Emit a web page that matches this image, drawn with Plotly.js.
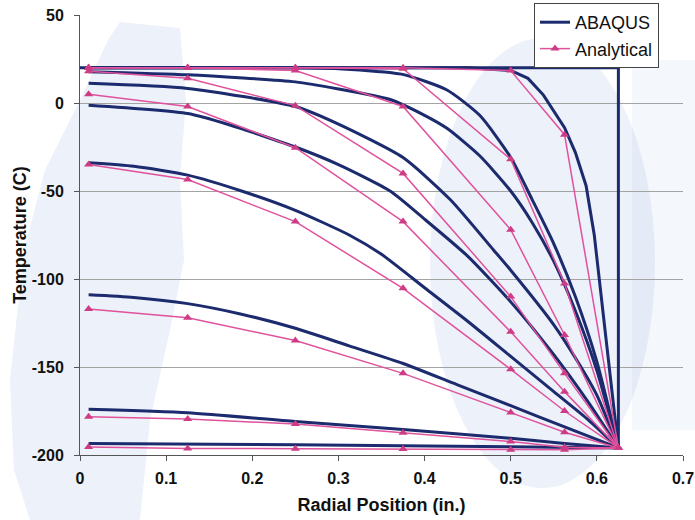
<!DOCTYPE html>
<html>
<head>
<meta charset="utf-8">
<script src="https://cdn.plot.ly/plotly-3.0.1.min.js"></script>
<style>
  html, body { margin: 0; padding: 0; background: #ffffff; }
  #chart { width: 695px; height: 520px; }
</style>
</head>
<body>
<div id="chart"></div>
<script>
// Analytical solution: radial positions (in.) and temperatures (C) for each time
const xAnalytical = [0.01, 0.125, 0.25, 0.375, 0.5, 0.5625, 0.625];
const anaT1 = [20, 20, 20, 20, 18.4, -18, -196];
const anaT2 = [20, 20, 20, 19.5, -32, -102.5, -196];
const anaT3 = [20, 20, 18.4, -2, -72, -131.8, -196];
const anaT4 = [18, 14, -1.5, -40, -110, -153.6, -196];
const anaT5 = [5, -2, -25.4, -67.4, -130, -164, -196];
const anaT6 = [-35, -43.5, -67.4, -105.3, -151.3, -175, -196];
const anaT7 = [-117, -122, -135, -153.6, -175.9, -187.1, -196];
const anaT8 = [-178.2, -179.5, -182.4, -187.3, -192.4, -195.6, -196];
const anaT9 = [-195.5, -196.3, -196.4, -196.6, -197, -197, -196];

// ABAQUS results: radial positions and temperatures for each time
const abqX0 = [0, 0.625, 0.625];
const abqT0 = [20, 20, -196];
const abqX1 = [0.01, 0.45, 0.5, 0.52, 0.538, 0.5625, 0.575, 0.5875, 0.597, 0.625];
const abqT1 = [20, 20, 18.5, 14, 4.5, -14, -28, -47, -75, -196];
const abqX2 = [0.01, 0.25, 0.3, 0.348, 0.377, 0.426, 0.464, 0.5, 0.525, 0.55, 0.575, 0.6, 0.625];
const abqT2 = [20, 20, 19.5, 17.8, 16, 7.4, -7, -31, -55, -80, -110, -147, -196];
const abqX3 = [0.01, 0.125, 0.25, 0.3, 0.36, 0.4, 0.426, 0.464, 0.5, 0.525, 0.55, 0.575, 0.6, 0.625];
const abqT3 = [17.8, 16, 12, 8, 2, -7, -14.4, -30, -50, -68, -90, -118, -152, -196];
const abqX4 = [0.01, 0.125, 0.25, 0.3, 0.375, 0.43, 0.48, 0.5, 0.55, 0.5766, 0.6, 0.625];
const abqT4 = [11.2, 8.3, -2, -12, -31, -55, -83.5, -95, -126, -146, -166, -196];
const abqX5 = [0.01, 0.125, 0.174, 0.25, 0.3, 0.36, 0.4, 0.45, 0.5, 0.55, 0.59, 0.625];
const abqT5 = [-1.3, -6, -12.5, -25, -35, -50, -66, -87, -113, -143, -170, -196];
const abqX6 = [0.01, 0.0625, 0.125, 0.1875, 0.25, 0.3125, 0.35, 0.4, 0.45, 0.5, 0.55, 0.59, 0.625];
const abqT6 = [-34, -36, -41, -50, -61, -75, -86, -105, -124, -144, -164, -180, -196];
const abqX7 = [0.01, 0.0625, 0.125, 0.1875, 0.25, 0.3125, 0.375, 0.4375, 0.5, 0.5625, 0.625];
const abqT7 = [-109, -110.5, -114, -120, -128, -138, -148, -160, -172, -184, -196];
const abqX8 = [0.01, 0.125, 0.25, 0.375, 0.5, 0.5625, 0.625];
const abqT8 = [-174, -176, -181, -185.5, -190.5, -193.5, -196];
const abqX9 = [0.01, 0.25, 0.5, 0.625];
const abqT9 = [-193.5, -194.2, -195.3, -196];

const seriesNames = ['ABAQUS', 'Analytical'];
const xTickVals = [0, 0.1, 0.2, 0.3, 0.4, 0.5, 0.6, 0.7];
const xTickText = ['0', '0.1', '0.2', '0.3', '0.4', '0.5', '0.6', '0.7'];
const yTickVals = [-200, -150, -100, -50, 0, 50];
const yTickText = ['-200', '-150', '-100', '-50', '0', '50'];

const NAVY = '#1c2a6e';
const PINK = '#e0529c';
const PINK_MARK = '#cc3d86';

const abqSets = [
  [abqX0, abqT0, 'linear'], [abqX1, abqT1, 'linear'], [abqX2, abqT2, 'spline'],
  [abqX3, abqT3, 'spline'], [abqX4, abqT4, 'spline'], [abqX5, abqT5, 'spline'],
  [abqX6, abqT6, 'spline'], [abqX7, abqT7, 'spline'], [abqX8, abqT8, 'spline'],
  [abqX9, abqT9, 'spline']
];
const anaSets = [anaT1, anaT2, anaT3, anaT4, anaT5, anaT6, anaT7, anaT8, anaT9];

const traces = [];
abqSets.forEach(function (s, i) {
  traces.push({
    x: s[0], y: s[1], type: 'scatter', mode: 'lines',
    name: seriesNames[0], legendgroup: 'abq', showlegend: i === 0,
    line: { color: NAVY, width: 3, shape: s[2], smoothing: 0.6 },
    hoverinfo: 'skip'
  });
});
anaSets.forEach(function (t, i) {
  traces.push({
    x: xAnalytical, y: t, type: 'scatter', mode: 'lines+markers',
    name: seriesNames[1], legendgroup: 'ana', showlegend: i === 0,
    line: { color: PINK, width: 1.5 },
    marker: { symbol: 'triangle-up', size: 8, color: PINK_MARK },
    hoverinfo: 'skip'
  });
});

// pixel -> paper helpers for the faint background tint
const PL = 80, PR = 683, PT = 15, PB = 455;
function px(x) { return (x - PL) / (PR - PL); }
function py(y) { return (PB - y) / (PB - PT); }
function poly(pts) {
  return 'M ' + pts.map(function (p) { return px(p[0]).toFixed(4) + ',' + py(p[1]).toFixed(4); }).join(' L ') + ' Z';
}
const tint = 'rgba(196,210,234,0.30)';
const shapes = [
  { type: 'path', xref: 'paper', yref: 'paper', layer: 'below', fillcolor: tint, line: { width: 0 },
    path: poly([[120,22],[180,28],[186,100],[180,180],[184,260],[170,330],[150,420],[140,520],[30,520],[14,470],[10,380],[24,250],[45,170],[80,100],[108,40]]) },
  { type: 'circle', xref: 'paper', yref: 'paper', layer: 'below', fillcolor: tint, line: { width: 0 },
    x0: px(430), x1: px(655), y0: py(488), y1: py(38) },
  { type: 'path', xref: 'paper', yref: 'paper', layer: 'below', fillcolor: 'rgba(196,210,234,0.18)', line: { width: 0 },
    path: poly([[632,60],[695,60],[695,430],[632,430]]) }
];

const layout = {
  width: 695, height: 520,
  margin: { l: 80, r: 12, t: 15, b: 65, autoexpand: false },
  paper_bgcolor: '#ffffff', plot_bgcolor: 'rgba(0,0,0,0)',
  font: { family: 'Arial, "Liberation Sans", sans-serif', color: '#111' },
  showlegend: true,
  legend: {
    x: px(534), y: py(3), xanchor: 'left', yanchor: 'top',
    bgcolor: '#ffffff', bordercolor: '#444', borderwidth: 1,
    font: { size: 18, color: '#111' }, itemwidth: 30, tracegroupgap: 0,
    entrywidth: 96, entrywidthmode: 'pixels'
  },
  xaxis: {
    range: [0, 0.7], tickvals: xTickVals, ticktext: xTickText,
    showgrid: false, zeroline: false, showline: true, linecolor: '#555', linewidth: 1,
    ticks: 'outside', ticklen: 5, tickcolor: '#555', ticklabelstandoff: 4,
    tickfont: { size: 16, weight: 'bold', color: '#111' },
    title: { text: 'Radial Position (in.)', font: { size: 18, weight: 'bold', color: '#111' }, standoff: 12 },
    automargin: false
  },
  yaxis: {
    range: [-200, 50], tickvals: yTickVals, ticktext: yTickText,
    showgrid: true, gridcolor: '#a3a3a3', gridwidth: 1,
    zeroline: false, showline: true, linecolor: '#555', linewidth: 1,
    ticks: 'outside', ticklen: 5, tickcolor: '#555', ticklabelstandoff: 7,
    tickfont: { size: 16, weight: 'bold', color: '#111' },
    title: { text: 'Temperature (C)', font: { size: 18, weight: 'bold', color: '#111' }, standoff: 0 },
    automargin: false
  },
  shapes: shapes
};

Plotly.newPlot('chart', traces, layout, { displayModeBar: false, staticPlot: true });
</script>
</body>
</html>
